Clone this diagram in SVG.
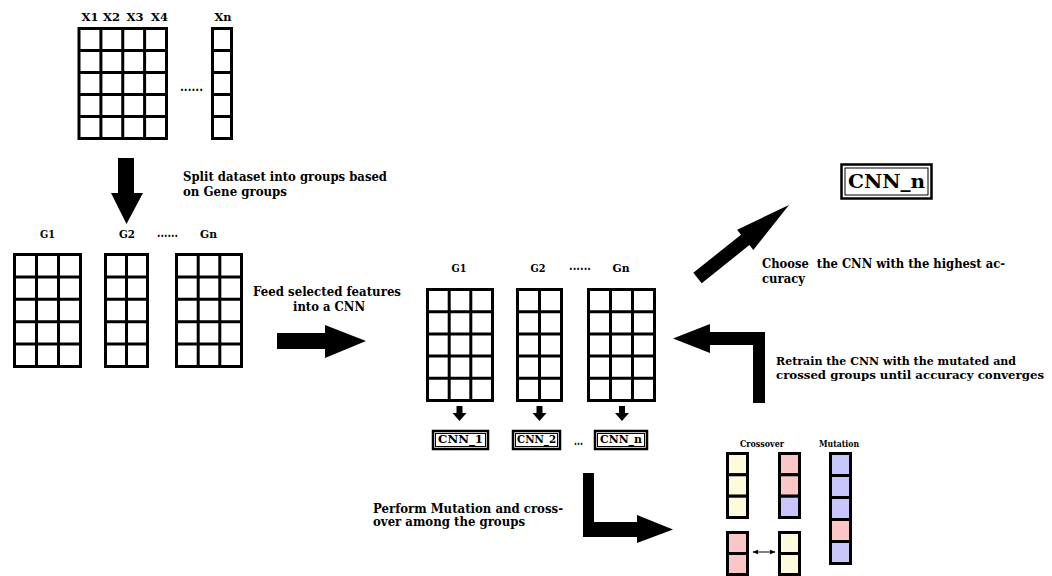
<svg xmlns="http://www.w3.org/2000/svg" width="1052" height="576" viewBox="0 0 1052 576">
<defs>
<style>
text{font-family:"DejaVu Serif","Liberation Serif",serif;font-weight:bold;fill:#000;}
.t{font-size:13px;white-space:pre;}
.t2{font-size:11.9px;white-space:pre;}
.lbl{font-size:11px;text-anchor:middle;}
.sm{font-size:10.5px;text-anchor:middle;}
.tiny{font-size:9px;text-anchor:middle;}
.grid{fill:#fff;stroke:#000;stroke-width:3;}
.gl{stroke:#000;stroke-width:3;fill:none;}
.box{fill:#fff;stroke:#000;stroke-width:2.5;}
.ibox{fill:none;stroke:#000;stroke-width:1;}
.arr{fill:#000;stroke:none;}
.y{fill:#fdfbdc;stroke:#000;stroke-width:3;}
.p{fill:#fbc6c6;stroke:#000;stroke-width:3;}
.b{fill:#c6c6fb;stroke:#000;stroke-width:3;}
</style>
<marker id="ah" viewBox="0 0 10 10" refX="9" refY="5" markerWidth="6" markerHeight="6" orient="auto-start-reverse">
<path d="M0,1 L10,5 L0,9 z" fill="#000"/>
</marker>
</defs>
<rect width="1052" height="576" fill="#fff"/>

<g id="dataset">
<text class="lbl" x="90" y="21" textLength="17" lengthAdjust="spacingAndGlyphs">X1</text>
<text class="lbl" x="111.5" y="21" textLength="17" lengthAdjust="spacingAndGlyphs">X2</text>
<text class="lbl" x="135" y="21" textLength="17" lengthAdjust="spacingAndGlyphs">X3</text>
<text class="lbl" x="159.5" y="21" textLength="17" lengthAdjust="spacingAndGlyphs">X4</text>
<text class="lbl" x="223" y="21" textLength="17" lengthAdjust="spacingAndGlyphs">Xn</text>
<rect class="grid" x="79" y="28.5" width="87.5" height="110"/>
<path class="gl" d="M100.9,28.5V138.5M122.75,28.5V138.5M144.6,28.5V138.5M79,50.5H166.5M79,72.5H166.5M79,94.5H166.5M79,116.5H166.5"/>
<text x="180" y="91" style="font-size:12px" textLength="23" lengthAdjust="spacingAndGlyphs">......</text>
<rect class="grid" x="212.5" y="28.5" width="19" height="110"/>
<path class="gl" d="M212.5,50.5H231.5M212.5,72.5H231.5M212.5,94.5H231.5M212.5,116.5H231.5"/>
</g>

<g id="split-label">
<text class="t" x="183" y="181" textLength="204" lengthAdjust="spacingAndGlyphs">Split dataset into groups based</text>
<text class="t" x="183" y="196" textLength="104" lengthAdjust="spacingAndGlyphs">on Gene groups</text>
</g>

<g id="groups-left">
<text class="lbl" x="47.5" y="238" textLength="15" lengthAdjust="spacingAndGlyphs">G1</text>
<text class="lbl" x="127" y="238" textLength="16" lengthAdjust="spacingAndGlyphs">G2</text>
<text x="157" y="237" style="font-size:12px" textLength="21" lengthAdjust="spacingAndGlyphs">......</text>
<text class="lbl" x="208.5" y="238" textLength="17" lengthAdjust="spacingAndGlyphs">Gn</text>
<rect class="grid" x="14.5" y="254.5" width="66" height="112"/>
<path class="gl" d="M36.5,254.5V366.5M58.5,254.5V366.5M14.5,276.9H80.5M14.5,299.3H80.5M14.5,321.7H80.5M14.5,344.1H80.5"/>
<rect class="grid" x="105.5" y="254.5" width="42" height="112"/>
<path class="gl" d="M126.5,254.5V366.5M105.5,276.9H147.5M105.5,299.3H147.5M105.5,321.7H147.5M105.5,344.1H147.5"/>
<rect class="grid" x="176.5" y="254.5" width="65" height="112"/>
<path class="gl" d="M198.2,254.5V366.5M219.8,254.5V366.5M176.5,276.9H241.5M176.5,299.3H241.5M176.5,321.7H241.5M176.5,344.1H241.5"/>
</g>

<g id="feed-label">
<text class="t" x="253" y="296" textLength="148" lengthAdjust="spacingAndGlyphs">Feed selected features</text>
<text class="t" x="293" y="310.5" textLength="72" lengthAdjust="spacingAndGlyphs">into a CNN</text>
</g>

<g id="groups-mid">
<text class="lbl" x="459" y="272" textLength="15" lengthAdjust="spacingAndGlyphs">G1</text>
<text class="lbl" x="538" y="272" textLength="15" lengthAdjust="spacingAndGlyphs">G2</text>
<text x="569" y="270" style="font-size:12px" textLength="22" lengthAdjust="spacingAndGlyphs">......</text>
<text class="lbl" x="621" y="272" textLength="17" lengthAdjust="spacingAndGlyphs">Gn</text>
<rect class="grid" x="427.5" y="289.5" width="65" height="111"/>
<path class="gl" d="M449.2,289.5V400.5M470.8,289.5V400.5M427.5,311.7H492.5M427.5,333.9H492.5M427.5,356.1H492.5M427.5,378.3H492.5"/>
<rect class="grid" x="517.5" y="289.5" width="44" height="111"/>
<path class="gl" d="M539.5,289.5V400.5M517.5,311.7H561.5M517.5,333.9H561.5M517.5,356.1H561.5M517.5,378.3H561.5"/>
<rect class="grid" x="588.5" y="289.5" width="66" height="111"/>
<path class="gl" d="M610.5,289.5V400.5M632.5,289.5V400.5M588.5,311.7H654.5M588.5,333.9H654.5M588.5,356.1H654.5M588.5,378.3H654.5"/>
</g>

<g id="cnn-1">
<rect class="box" x="433" y="431" width="55" height="18"/>
<rect class="ibox" x="435.5" y="433.5" width="50" height="13"/>
<text class="sm" x="460.5" y="443" textLength="45" lengthAdjust="spacingAndGlyphs">CNN_1</text>
</g>
<g id="cnn-2">
<rect class="box" x="513" y="431" width="47" height="18"/>
<rect class="ibox" x="515.5" y="433.5" width="42" height="13"/>
<text class="sm" x="536.5" y="443" textLength="39" lengthAdjust="spacingAndGlyphs">CNN_2</text>
</g>
<text x="574" y="444.5" style="font-size:12px" textLength="9" lengthAdjust="spacingAndGlyphs">...</text>
<g id="cnn-n">
<rect class="box" x="595" y="431" width="52" height="18"/>
<rect class="ibox" x="597.5" y="433.5" width="47" height="13"/>
<text class="sm" x="621" y="443" textLength="42" lengthAdjust="spacingAndGlyphs">CNN_n</text>
</g>

<g id="best-cnn">
<rect class="box" x="841.5" y="164.5" width="90" height="34"/>
<rect class="ibox" x="845" y="168" width="83" height="27"/>
<text x="886.5" y="188" style="font-size:19px;text-anchor:middle" textLength="77" lengthAdjust="spacingAndGlyphs">CNN_n</text>
</g>

<g id="choose-label">
<text class="t" x="762" y="268" textLength="243" lengthAdjust="spacingAndGlyphs">Choose  the CNN with the highest ac-</text>
<text class="t" x="762" y="282.5" textLength="43" lengthAdjust="spacingAndGlyphs">curacy</text>
</g>

<g id="retrain-label">
<text class="t2" x="776" y="365" textLength="240" lengthAdjust="spacingAndGlyphs">Retrain the CNN with the mutated and</text>
<text class="t2" x="776" y="379" textLength="268" lengthAdjust="spacingAndGlyphs">crossed groups until accuracy converges</text>
</g>

<g id="perform-label">
<text class="t" x="373" y="512.5" textLength="190" lengthAdjust="spacingAndGlyphs">Perform Mutation and cross-</text>
<text class="t" x="373" y="526" textLength="152" lengthAdjust="spacingAndGlyphs">over among the groups</text>
</g>

<g id="crossover">
<text class="tiny" x="762" y="447" textLength="44" lengthAdjust="spacingAndGlyphs">Crossover</text>
<rect class="y" x="727.5" y="453.5" width="20" height="21.3"/>
<rect class="y" x="727.5" y="474.8" width="20" height="21.4"/>
<rect class="y" x="727.5" y="496.2" width="20" height="21.3"/>
<rect class="p" x="779.5" y="453.5" width="20" height="21.3"/>
<rect class="p" x="779.5" y="474.8" width="20" height="21.4"/>
<rect class="b" x="779.5" y="496.2" width="20" height="21.3"/>
<rect class="p" x="727.5" y="532.5" width="20" height="21"/>
<rect class="p" x="727.5" y="553.5" width="20" height="21"/>
<rect class="y" x="779.5" y="532.5" width="20" height="21"/>
<rect class="y" x="779.5" y="553.5" width="20" height="21"/>
</g>

<g id="mutation">
<text class="tiny" x="839" y="447" textLength="40" lengthAdjust="spacingAndGlyphs">Mutation</text>
<rect class="b" x="830.5" y="453.5" width="20" height="22"/>
<rect class="b" x="830.5" y="475.5" width="20" height="22"/>
<rect class="b" x="830.5" y="497.5" width="20" height="22"/>
<rect class="p" x="830.5" y="519.5" width="20" height="22"/>
<rect class="b" x="830.5" y="541.5" width="20" height="22"/>
</g>

<g id="connectors">
<polygon class="arr" points="118,158 134,158 134,193 143,193 126.5,224 111,193 118,193"/>
<polygon class="arr" points="277,333 325,333 325,325 366,341 325,358 325,349 277,349"/>
<polygon class="arr" points="456.5,406 462.5,406 462.5,413 466.5,413 459.5,421 452.5,413 456.5,413"/>
<polygon class="arr" points="536.5,406 542.5,406 542.5,413 546.5,413 539.5,421 532.5,413 536.5,413"/>
<polygon class="arr" points="619,406 625,406 625,413 629,413 622,421 615,413 619,413"/>
<polygon class="arr" points="693.3,272.8 741,234.7 737.1,229.7 789,205 753.3,250.1 749.4,245.1 701.7,283.2"/>
<polygon class="arr" points="673,338.5 710,324 710,332 765,332 765,403 753,403 753,345 710,345 710,353"/>
<polygon class="arr" points="583,473 594,473 594,522 637,522 637,515 673,529.5 637,543 637,537 583,537"/>
<line x1="753" y1="552" x2="775" y2="552" stroke="#000" stroke-width="1" marker-start="url(#ah)" marker-end="url(#ah)"/>
</g>
</svg>
